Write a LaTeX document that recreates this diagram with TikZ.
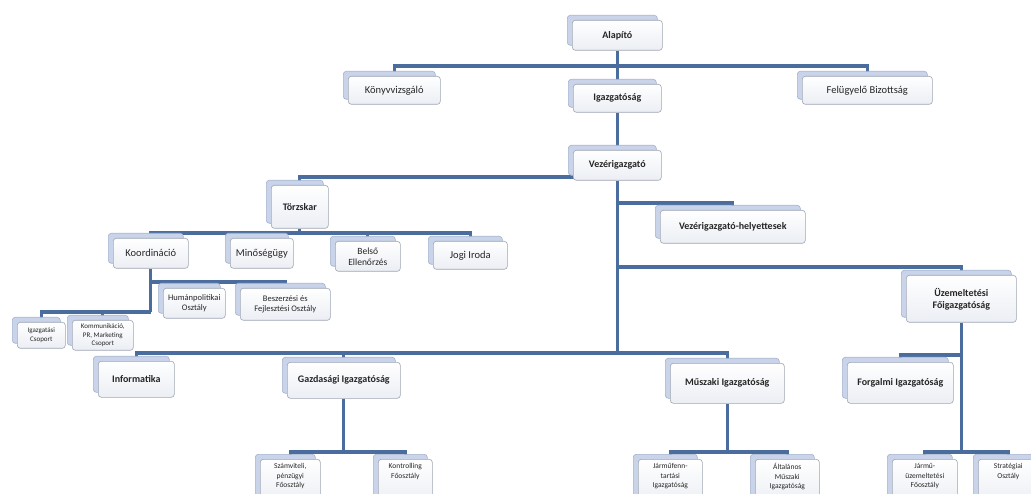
\documentclass[tikz,border=0pt]{standalone}
\usepackage{fontspec}
\setmainfont{Carlito}
\usetikzlibrary{calc}
\definecolor{linec}{HTML}{4A6D9E}
\definecolor{backc}{HTML}{C9D4EA}
\definecolor{backd}{HTML}{A3B2CC}
\definecolor{frontd}{HTML}{9EA6B3}
\definecolor{frontb}{HTML}{EBEEF4}
\definecolor{textc}{HTML}{262626}
\pgfdeclarelayer{bg}
\pgfsetlayers{bg,main}
\tikzset{
  conn/.style={draw=linec, line width=3.2pt},
  backbox/.style={draw=backd, fill=backc, rounded corners=3pt, line width=0.6pt, inner sep=0pt},
  frontbox/.style={draw=frontd, top color=white, bottom color=frontb, rounded corners=3pt, line width=0.6pt, inner sep=1pt, align=center, text=textc},
  big/.style={font=\fontsize{10}{12}\selectfont\bfseries},
  reg/.style={font=\fontsize{10.5}{12}\selectfont},
  mid/.style={font=\fontsize{8.5}{10}\selectfont},
  tiny/.style={font=\fontsize{7}{8.5}\selectfont},
  toplbl/.style={label={[anchor=north, yshift=-1pt, align=center, text=textc, font=\fontsize{7.5}{9.6}\selectfont]north:#1}},
}
% #1 style, #2 name, #3 front left, #4 front top, #5 width, #6 height, #7 text
\newcommand\orgbox[7][]{%
  \node[backbox, minimum width=#5pt, minimum height=#6pt, anchor=north west] (#2-b) at (#3-5,#4-5) {};
  \node[frontbox, minimum width=#5pt, minimum height=#6pt, anchor=north west, #1] (#2) at (#3,#4) {#7};
}
\begin{document}
\begin{tikzpicture}[x=1pt,y=-1pt]
\useasboundingbox (0,0) rectangle (1031,494);
\clip (0,0) rectangle (1031,494);
\coordinate (h66) at (0,66);
\coordinate (h177) at (0,177);
\coordinate (h203) at (0,203);
\coordinate (h233) at (0,233);
\coordinate (h267) at (0,267);
\coordinate (h282) at (0,282);
\coordinate (h312) at (0,312);
\coordinate (h353) at (0,353);
\coordinate (h355) at (0,355);
\coordinate (h452) at (0,452);

\orgbox[big]{alap}{572}{20}{90}{30}{Alapító}
\orgbox[reg]{konyv}{348}{76}{92}{28}{Könyvvizsgáló}
\orgbox[big]{igazg}{573}{84}{88}{28}{Igazgatóság}
\orgbox[reg]{felugy}{802}{76}{130}{28}{Felügyelő Bizottság}
\orgbox[big]{vez}{573}{150}{88}{30}{Vezérigazgató}
\orgbox[big]{torzs}{271}{185}{57}{43}{Törzskar}
\orgbox[big]{vhely}{660}{210}{145}{33}{Vezérigazgató-helyettesek}
\orgbox[reg]{koord}{113}{238}{75}{30}{Koordináció}
\orgbox[reg]{minos}{230}{238}{63}{30}{Minőségügy}
\orgbox[reg,font=\fontsize{9.5}{11}\selectfont]{belso}{335}{241}{65}{30}{Belső\\Ellenőrzés}
\orgbox[reg]{jogi}{433}{241}{74}{28}{Jogi Iroda}
\orgbox[mid]{human}{163}{288}{62}{30}{Humánpolitikai\\Osztály}
\orgbox[mid]{beszer}{240}{288}{90}{32}{Beszerzési és\\Fejlesztési Osztály}
\orgbox[tiny]{igcsop}{17}{322}{48}{26}{Igazgatási\\Csoport}
\orgbox[tiny]{komm}{72}{320}{61}{30}{Kommunikáció,\\PR, Marketing\\Csoport}
\orgbox[big]{inform}{98}{361}{76}{36}{Informatika}
\orgbox[big]{gazd}{287}{362}{113}{36}{Gazdasági Igazgatóság}
\orgbox[big]{muszaki}{670}{363}{114}{40}{Műszaki Igazgatóság}
\orgbox[big]{uzem}{906}{275}{110}{47}{Üzemeltetési\\Főigazgatóság}
\orgbox[big]{forg}{847}{362}{106}{41}{Forgalmi Igazgatóság}
\orgbox[toplbl={Számviteli,\\pénzügyi\\Főosztály}]{szamv}{260}{459}{60}{45}{}
\orgbox[toplbl={Kontrolling\\Főosztály}]{kontr}{378}{459}{54}{45}{}
\orgbox[toplbl={Járműfenn-\\tartási\\Igazgatóság}]{jarmfenn}{638}{459}{64}{45}{}
\orgbox[toplbl={Általános\\Műszaki\\Igazgatóság}]{altal}{755}{459}{64}{45}{}
\orgbox[toplbl={Jármű-\\üzemeltetési\\Főosztály}]{jarmuz}{892}{459}{65}{45}{}
\orgbox[toplbl={Stratégiai\\Osztály}]{strat}{978}{459}{60}{45}{}

\begin{pgfonlayer}{bg}
\fill[white] (0,0) rectangle (1031,494);
\draw[conn] (alap.south) -- (igazg.north);
\draw[conn] (konyv.north) |- (alap.south |- h66) -| (felugy.north);
\draw[conn] (igazg.south) -- (vez.north);
\draw[conn] (vez.south) -- (vez.south |- h353);
\draw[conn] (vez.south |- h177) -| (torzs.north);
\draw[conn] (vez.south |- h203) -| (vhely.north);
\draw[conn] (vez.south |- h267) -| (uzem.north);
% Torzskar
\draw[conn] (torzs.south) -- (torzs.south |- h233);
\draw[conn] (koord.north) |- (jogi.north |- h233) -- (jogi.north);
\draw[conn] (minos.north) -- (minos.north |- h233);
\draw[conn] (belso.north) -- (belso.north |- h233);
% Koordinacio
\draw[conn] (koord.south) -- (koord.south |- h312);
\draw[conn] (koord.south |- h282) -| (beszer.north);
\draw[conn] (human.north) -- (human.north |- h282);
\draw[conn] (koord.south |- h312) -| (igcsop.north);
\draw[conn] (komm.north) -- (komm.north |- h312);
% main lower bar
\draw[conn] (inform.north) |- (muszaki.north |- h353) -- (muszaki.north);
\draw[conn] (gazd.north) -- (gazd.north |- h353);
% Gazdasagi
\draw[conn] (gazd.south) -- (gazd.south |- h452);
\draw[conn] (szamv.north) |- (kontr.north |- h452) -- (kontr.north);
% Muszaki
\draw[conn] (muszaki.south) -- (muszaki.south |- h452);
\draw[conn] (jarmfenn.north) |- (altal.north |- h452) -- (altal.north);
% Uzemeltetesi
\draw[conn] (uzem.south) -- (uzem.south |- h452);
\draw[conn] (uzem.south |- h355) -| (forg.north);
\draw[conn] (jarmuz.north) |- (strat.north |- h452) -- (strat.north);
\end{pgfonlayer}
\end{tikzpicture}
\end{document}
